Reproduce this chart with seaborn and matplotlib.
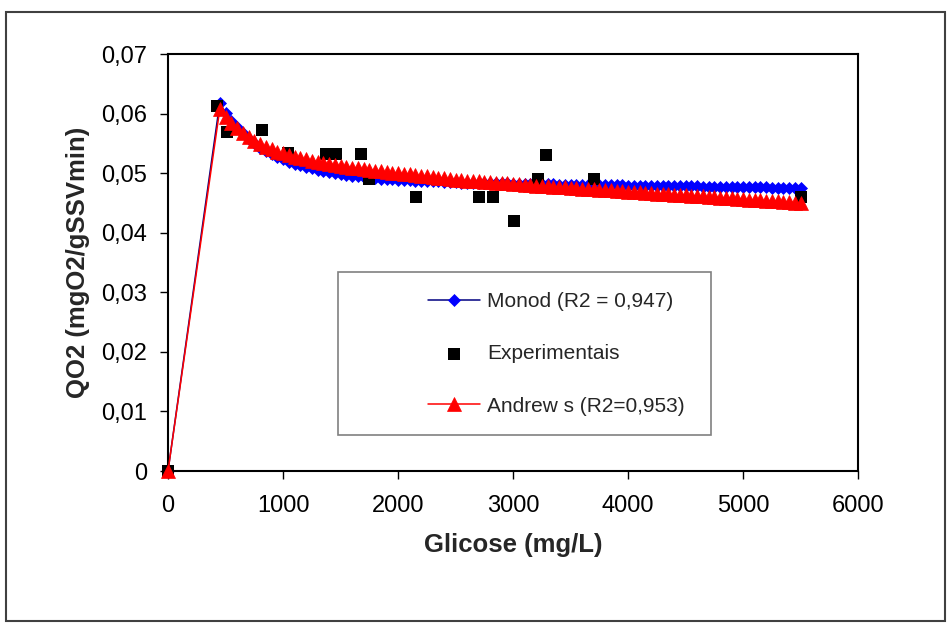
import matplotlib
matplotlib.use('Agg')
import matplotlib.pyplot as plt
import seaborn as sns
from matplotlib.patches import Rectangle
from matplotlib.ticker import FuncFormatter, MultipleLocator

sns.set_style('white')
plt.rcParams['font.family'] = ['Liberation Sans', 'DejaVu Sans']

# ---------------- data ----------------
glicose_modelo = [0,
    450, 500, 550, 600, 650, 700, 750, 800, 850, 900,
    950, 1000, 1050, 1100, 1150, 1200, 1250, 1300, 1350, 1400,
    1450, 1500, 1550, 1600, 1650, 1700, 1750, 1800, 1850, 1900,
    1950, 2000, 2050, 2100, 2150, 2200, 2250, 2300, 2350, 2400,
    2450, 2500, 2550, 2600, 2650, 2700, 2750, 2800, 2850, 2900,
    2950, 3000, 3050, 3100, 3150, 3200, 3250, 3300, 3350, 3400,
    3450, 3500, 3550, 3600, 3650, 3700, 3750, 3800, 3850, 3900,
    3950, 4000, 4050, 4100, 4150, 4200, 4250, 4300, 4350, 4400,
    4450, 4500, 4550, 4600, 4650, 4700, 4750, 4800, 4850, 4900,
    4950, 5000, 5050, 5100, 5150, 5200, 5250, 5300, 5350, 5400,
    5450, 5500]

qo2_monod = [0.0,
    0.0618, 0.0601, 0.0588, 0.0577, 0.0567, 0.0558, 0.0550, 0.0543, 0.0537, 0.0532,
    0.0527, 0.0523, 0.0519, 0.0516, 0.0513, 0.0510, 0.0508, 0.0506, 0.0504, 0.0502,
    0.0500, 0.0499, 0.0497, 0.0496, 0.0495, 0.0494, 0.0493, 0.0492, 0.0491, 0.0490,
    0.0490, 0.0489, 0.0488, 0.0488, 0.0487, 0.0487, 0.0486, 0.0486, 0.0486, 0.0485,
    0.0485, 0.0485, 0.0484, 0.0484, 0.0484, 0.0484, 0.0483, 0.0483, 0.0483, 0.0483,
    0.0483, 0.0482, 0.04819, 0.04818, 0.04816, 0.04815, 0.04813, 0.04812, 0.04811, 0.04809,
    0.04808, 0.04806, 0.04805, 0.04804, 0.04802, 0.04801, 0.04799, 0.04798, 0.04797, 0.04795,
    0.04794, 0.04792, 0.04791, 0.04790, 0.04788, 0.04787, 0.04785, 0.04784, 0.04783, 0.04781,
    0.04780, 0.04778, 0.04777, 0.04776, 0.04774, 0.04773, 0.04771, 0.04770, 0.04769, 0.04767,
    0.04766, 0.04764, 0.04763, 0.04762, 0.04760, 0.04759, 0.04757, 0.04756, 0.04755, 0.04753,
    0.04752, 0.04750]

qo2_andrews = [0.0,
    0.0607, 0.0594, 0.0584, 0.0575, 0.0567, 0.0560, 0.0554, 0.0549, 0.0544, 0.0540,
    0.0536, 0.0533, 0.0530, 0.0527, 0.0525, 0.0523, 0.0521, 0.0519, 0.0517, 0.0515,
    0.0514, 0.0512, 0.0511, 0.0509, 0.0508, 0.0507, 0.0506, 0.0504, 0.0503, 0.0502,
    0.0501, 0.0500, 0.04989, 0.04978, 0.04967, 0.04956, 0.04945, 0.04934, 0.04923, 0.04912,
    0.04901, 0.04890, 0.04883, 0.04876, 0.04869, 0.04862, 0.04855, 0.04848, 0.04841, 0.04834,
    0.04827, 0.04820, 0.04813, 0.04806, 0.04799, 0.04792, 0.04785, 0.04779, 0.04772, 0.04766,
    0.04760, 0.04753, 0.04747, 0.04741, 0.04734, 0.04728, 0.04722, 0.04715, 0.04709, 0.04703,
    0.04696, 0.04690, 0.04684, 0.04677, 0.04671, 0.04665, 0.04658, 0.04652, 0.04646, 0.04639,
    0.04633, 0.04627, 0.04620, 0.04614, 0.04608, 0.04601, 0.04595, 0.04589, 0.04582, 0.04576,
    0.04570, 0.04563, 0.04557, 0.04551, 0.04544, 0.04538, 0.04532, 0.04525, 0.04519, 0.04513,
    0.04506, 0.04500]

glicose_exp = [0, 430, 510, 820, 1040, 1370, 1460, 1680, 1750, 2160,
               2700, 2830, 3010, 3220, 3290, 3700, 5500]
qo2_exp = [0.0, 0.0613, 0.0569, 0.0572, 0.0534, 0.0532, 0.0532, 0.0532, 0.0490, 0.0460,
           0.0460, 0.0460, 0.0420, 0.0490, 0.0530, 0.0490, 0.0460]

label_monod = 'Monod (R2 = 0,947)'
label_exp = 'Experimentais'
label_andrews = 'Andrew s (R2=0,953)'
x_label = 'Glicose (mg/L)'
y_label = 'QO2 (mgO2/gSSVmin)'
x_ticks = [0, 1000, 2000, 3000, 4000, 5000, 6000]

# ---------------- figure ----------------
W, H = 947, 625
fig = plt.figure(figsize=(W / 100, H / 100), dpi=100)
fig.patch.set_facecolor('white')
fig.patches.append(Rectangle((6 / W, 4 / H), 939 / W, 609 / H, transform=fig.transFigure,
                             fill=False, edgecolor='#404040', linewidth=1.5))

ax = fig.add_axes([168 / W, 1 - 471 / H, 690 / W, 417 / H])
ax.set_facecolor('white')

sns.lineplot(x=glicose_modelo, y=qo2_monod, ax=ax, sort=False, estimator=None,
             color='#000080', linewidth=1.1, marker='D', markersize=6.6,
             markerfacecolor='#0000FF', markeredgecolor='#0000FF', markeredgewidth=0.5,
             label=label_monod, zorder=2, clip_on=False)
sns.scatterplot(x=glicose_exp, y=qo2_exp, ax=ax, marker='s', s=78, color='black',
                linewidth=0, label=label_exp, zorder=3, clip_on=False)
sns.lineplot(x=glicose_modelo, y=qo2_andrews, ax=ax, sort=False, estimator=None,
             color='#FF0000', linewidth=1.1, marker='^', markersize=10,
             markerfacecolor='#FF0000', markeredgecolor='#FF0000', markeredgewidth=0.5,
             label=label_andrews, zorder=4, clip_on=False)

ax.set_xlim(0, 6000)
ax.set_ylim(0, 0.07)
ax.set_xticks(x_ticks)
ax.yaxis.set_major_locator(MultipleLocator(0.01))
ax.yaxis.set_major_formatter(FuncFormatter(
    lambda v, p: '0' if abs(v) < 1e-9 else f'{v:.2f}'.replace('.', ',')))

for s in ax.spines.values():
    s.set_visible(True)
    s.set_color('black')
    s.set_linewidth(1.5)

ax.tick_params(axis='both', which='major', bottom=True, left=True, direction='out',
               length=6, width=1, colors='black', labelsize=17)
ax.tick_params(axis='x', pad=11)
ax.tick_params(axis='y', pad=9)

ax.set_xlabel(x_label, fontsize=18.5, fontweight='bold', labelpad=12)
ax.set_ylabel(y_label, fontsize=18.5, fontweight='bold', labelpad=8)

# legend box
ax.add_patch(Rectangle((0.2464, 0.0863), 0.5406, 0.391, transform=ax.transAxes,
                       facecolor='white', edgecolor='#808080', linewidth=1.2, zorder=5))
handles, labels = ax.get_legend_handles_labels()
leg = ax.legend(handles, labels, frameon=False, loc='center left',
                bbox_to_anchor=(0.3768, 0.281), fontsize=15, labelspacing=1.6,
                handlelength=2.5, handletextpad=0.35, borderpad=0, borderaxespad=0)
leg.set_zorder(6)

fig.savefig('out.png', dpi=100)
